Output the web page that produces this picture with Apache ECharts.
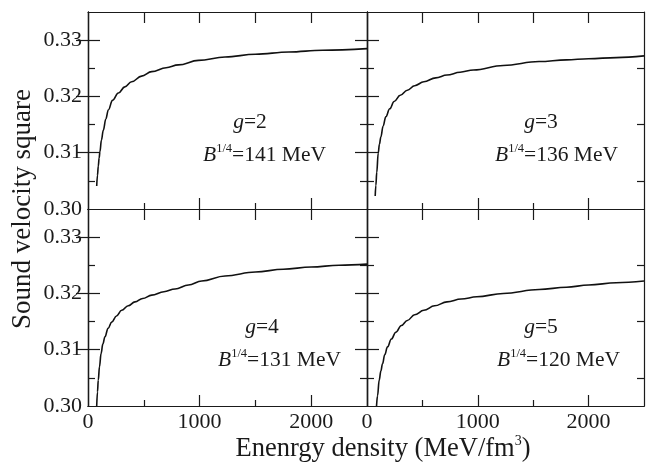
<!DOCTYPE html>
<html>
<head>
<meta charset="utf-8">
<script src="https://cdn.jsdelivr.net/npm/echarts@6/dist/echarts.min.js"></script>
<style>
  html, body { margin: 0; padding: 0; background: #fff; }
  #chart { width: 647px; height: 464px; }
</style>
</head>
<body>
<div id="chart"></div>
<script>
// Squared sound velocity vs. energy density, four (g, B^1/4) parameter sets.
const FONT = '"Liberation Serif", "Times New Roman", serif';
const INK = '#1a1a1a';

const panelG = [2, 3, 4, 5];
const panelB = [141, 136, 131, 120];

// g = 2, B^1/4 = 141 MeV
const energyG2 = [78, 85, 92, 100, 107, 120, 137, 160, 182, 220, 272, 330, 391, 480, 571, 700, 810, 990, 1228, 1500, 1800, 2100, 2500];
const cs2G2 = [0.3041, 0.3060, 0.3076, 0.3091, 0.3102, 0.3122, 0.3140, 0.3160, 0.3176, 0.3193, 0.3206, 0.3217, 0.3226, 0.3236, 0.3244, 0.3251, 0.3256, 0.3264, 0.3270, 0.3275, 0.3279, 0.3282, 0.3285];

// g = 3, B^1/4 = 136 MeV
const energyG3 = [74, 80, 88, 101, 112, 125, 145, 170, 205, 245, 300, 364, 430, 513, 620, 722, 840, 961, 1230, 1553, 1800, 2000, 2250, 2500];
const cs2G3 = [0.3023, 0.3042, 0.3065, 0.3099, 0.3115, 0.3128, 0.3147, 0.3164, 0.3178, 0.3191, 0.3202, 0.3211, 0.3219, 0.3226, 0.3233, 0.3238, 0.3243, 0.3247, 0.3255, 0.3262, 0.3265, 0.3267, 0.3269, 0.3272];

// g = 4, B^1/4 = 131 MeV
const energyG4 = [78, 85, 92, 103, 117, 133, 152, 180, 212, 255, 302, 360, 421, 490, 571, 680, 780, 900, 1019, 1228, 1500, 1750, 2000, 2250, 2500];
const cs2G4 = [0.3000, 0.3025, 0.3046, 0.3070, 0.3093, 0.3110, 0.3123, 0.3138, 0.3149, 0.3160, 0.3170, 0.3178, 0.3185, 0.3191, 0.3197, 0.3203, 0.3208, 0.3215, 0.3222, 0.3231, 0.3238, 0.3243, 0.3247, 0.3250, 0.3252];

// g = 5, B^1/4 = 120 MeV
const energyG5 = [86, 95, 110, 125, 140, 160, 185, 220, 260, 310, 364, 430, 513, 610, 722, 850, 991, 1230, 1553, 1800, 2000, 2250, 2500];
const cs2G5 = [0.3000, 0.3018, 0.3046, 0.3062, 0.3075, 0.3091, 0.3105, 0.3119, 0.3131, 0.3143, 0.3152, 0.3162, 0.3170, 0.3178, 0.3185, 0.3190, 0.3194, 0.3200, 0.3207, 0.3211, 0.3215, 0.3219, 0.3222];

// Tick positions and labels
const xTickLabels = [0, 1000, 2000];
const xMajorTicks = [1000, 2000];
const xMinorTicks = [500, 1500];
const xTopTicks = [500, 1000, 1500, 2000];
const yTickLabels = [0.30, 0.31, 0.32, 0.33];
const yMajorTicks = [0.31, 0.32, 0.33];
const yMinorTicks = [0.305, 0.315, 0.325];

const X_MIN = 0, X_MAX = 2500, Y_MIN = 0.30, Y_MAX = 0.335;

const energies = [energyG2, energyG3, energyG4, energyG5];
const values = [cs2G2, cs2G3, cs2G4, cs2G5];

const grids = [
  { left: 88,  top: 12,  width: 279, height: 197 },
  { left: 367, top: 12,  width: 277, height: 197 },
  { left: 88,  top: 209, width: 279, height: 197 },
  { left: 367, top: 209, width: 277, height: 197 }
];

const lineStyle = { color: INK, width: 1.2 };
const labelStyle = { fontFamily: FONT, fontSize: 22, color: INK };

const xAxes = [], yAxes = [], series = [];
grids.forEach((g, i) => {
  const showX = i >= 2;
  const showY = i % 2 === 0;
  const xBase = xAxes.length, yBase = yAxes.length;
  [['bottom', xMajorTicks, 11, showX], ['bottom', xMinorTicks, 6, false],
   ['top', xTopTicks, 11, false]].forEach(([pos, ticks, len, lab]) => {
    xAxes.push({
      gridIndex: i, type: 'value', position: pos, min: X_MIN, max: X_MAX,
      axisLine: { show: true, lineStyle },
      axisTick: { show: true, inside: true, length: len, lineStyle, customValues: ticks },
      axisLabel: {
        show: lab, margin: 5, customValues: xTickLabels,
        formatter: v => String(Math.round(v)), ...labelStyle
      },
      splitLine: { show: false }
    });
  });
  [['left', yMajorTicks, 12, showY], ['left', yMinorTicks, 7, false],
   ['right', yMajorTicks, 12, false], ['right', yMinorTicks, 7, false]].forEach(([pos, ticks, len, lab]) => {
    yAxes.push({
      gridIndex: i, type: 'value', position: pos, min: Y_MIN, max: Y_MAX,
      axisLine: { show: true, lineStyle },
      axisTick: { show: true, inside: true, length: len, lineStyle, customValues: ticks },
      axisLabel: {
        show: lab, margin: 6, customValues: yTickLabels,
        formatter: v => v.toFixed(2), ...labelStyle
      },
      splitLine: { show: false }
    });
  });
  series.push({
    type: 'line', xAxisIndex: xBase, yAxisIndex: yBase,
    data: energies[i].map((e, k) => [e, values[i][k]]),
    showSymbol: false, smooth: 0.4, smoothMonotone: 'x',
    lineStyle: { color: '#111', width: 1.6 }, silent: true, animation: false
  });
});

// Panel annotations: (x of g line centre, y of g line, x of B line start, y of B line)
const notePos = [
  [250, 122, 203, 155],
  [541, 122, 495, 155],
  [262, 327, 218, 360],
  [541, 327, 497, 360]
];
const baseRich = (size, extra) => Object.assign({ fontFamily: FONT, fontSize: size, fill: INK, lineHeight: 26 }, extra || {});
const graphics = [];
notePos.forEach((p, i) => {
  graphics.push({
    type: 'text', x: p[0], y: p[1],
    style: {
      text: '{i|g}{n|=' + panelG[i] + '}',
      align: 'center', verticalAlign: 'middle',
      rich: { i: baseRich(21.5, { fontStyle: 'italic' }), n: baseRich(21.5) }
    }
  });
  graphics.push({
    type: 'text', x: p[2], y: p[3],
    style: {
      text: '{i|B}{s|1/4}{n|=' + panelB[i] + ' MeV}',
      align: 'left', verticalAlign: 'middle',
      rich: {
        i: baseRich(21.5, { fontStyle: 'italic' }),
        s: baseRich(12.5, { lineHeight: 12, verticalAlign: 'top' }),
        n: baseRich(21.5)
      }
    }
  });
});
// Axis titles
graphics.push({
  type: 'text', x: 383, y: 449,
  style: {
    text: '{n|Enenrgy density (MeV/fm}{s|3}{n|)}',
    align: 'center', verticalAlign: 'middle',
    rich: {
      n: { fontFamily: FONT, fontSize: 26.5, fill: INK, lineHeight: 30 },
      s: { fontFamily: FONT, fontSize: 14, fill: INK, lineHeight: 14, verticalAlign: 'top' }
    }
  }
});
graphics.push({
  type: 'text', x: 23, y: 209, rotation: Math.PI / 2,
  style: {
    text: 'Sound velocity square',
    align: 'center', verticalAlign: 'middle',
    fontFamily: FONT, fontSize: 27, fill: INK
  }
});

const chart = echarts.init(document.getElementById('chart'), null, { renderer: 'canvas' });
chart.setOption({
  animation: false,
  backgroundColor: '#fff',
  grid: grids.map(g => Object.assign({ containLabel: false }, g)),
  xAxis: xAxes,
  yAxis: yAxes,
  series,
  graphic: graphics
});
</script>
</body>
</html>
